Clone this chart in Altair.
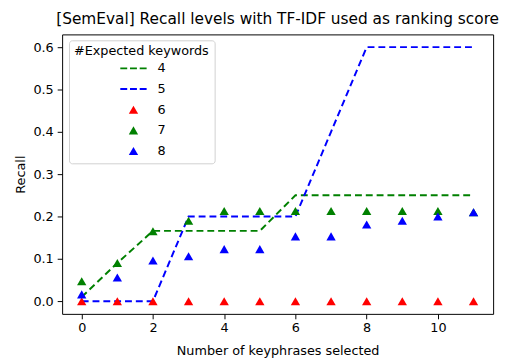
import altair as alt
import pandas as pd

# ---- data ----
x_vals = [0, 1, 2, 3, 4, 5, 6, 7, 8, 9, 10, 11]
recall_4 = [0.01, 0.09, 0.166, 0.166, 0.166, 0.166, 0.25, 0.25, 0.25, 0.25, 0.25, 0.25]
recall_5 = [0.0, 0.0, 0.0, 0.2, 0.2, 0.2, 0.2, 0.4, 0.6, 0.6, 0.6, 0.6]
recall_6 = [0.0, 0.0, 0.0, 0.0, 0.0, 0.0, 0.0, 0.0, 0.0, 0.0, 0.0, 0.0]
recall_7 = [0.047, 0.09, 0.165, 0.19, 0.213, 0.213, 0.213, 0.213, 0.213, 0.213, 0.213, 0.21]
recall_8 = [0.016, 0.056, 0.096, 0.106, 0.123, 0.123, 0.153, 0.153, 0.181, 0.19, 0.2, 0.21]

series_names = ["4", "5", "6", "7", "8"]
series_colors = ["green", "blue", "red", "green", "blue"]
x_ticks = [0, 2, 4, 6, 8, 10]
y_ticks = [0.0, 0.1, 0.2, 0.3, 0.4, 0.5, 0.6]

line_df = pd.concat([
    pd.DataFrame({"x": x_vals, "recall": recall_4, "series": "4"}),
    pd.DataFrame({"x": x_vals, "recall": recall_5, "series": "5"}),
])
point_df = pd.concat([
    pd.DataFrame({"x": x_vals, "recall": recall_6, "series": "6"}),
    pd.DataFrame({"x": x_vals, "recall": recall_7, "series": "7"}),
    pd.DataFrame({"x": x_vals, "recall": recall_8, "series": "8"}),
])

FONT = "DejaVu Sans"
dash_path = ("M-2.82,-0.21H-1.34V0.21H-2.82Z "
             "M-0.74,-0.21H0.74V0.21H-0.74Z "
             "M1.34,-0.21H2.82V0.21H1.34Z")
shape_range = [dash_path, dash_path, "triangle-up", "triangle-up", "triangle-up"]

x_enc = alt.X("x:Q",
              scale=alt.Scale(domain=[-0.55, 11.55], nice=False, zero=False),
              axis=alt.Axis(values=x_ticks, title="Number of keyphrases selected",
                            format="d"))
y_enc = alt.Y("recall:Q",
              scale=alt.Scale(domain=[-0.03, 0.63], nice=False, zero=False),
              axis=alt.Axis(values=y_ticks, title="Recall", format=".1f"))

color_scale = alt.Scale(domain=series_names, range=series_colors)
legend = alt.Legend(
    title="#Expected keywords",
    orient="none", legendX=7, legendY=6,
    padding=5, titlePadding=4, rowPadding=7,
    symbolSize=90, symbolOffset=54, labelOffset=18,
    strokeColor="#d0d0d0", fillColor="white", cornerRadius=3,
    titleFont=FONT, titleFontSize=13, titleFontWeight="normal", titleColor="black",
    labelFont=FONT, labelFontSize=13, labelColor="black",
    symbolStrokeWidth=0,
)

points = alt.Chart(point_df).mark_point(
    filled=True, size=90, opacity=1, strokeWidth=0
).encode(
    x=x_enc, y=y_enc,
    color=alt.Color("series:N", scale=color_scale, legend=legend),
    shape=alt.Shape("series:N", scale=alt.Scale(domain=series_names, range=shape_range),
                    legend=legend),
    order=alt.Order("series:N"),
)

lines = alt.Chart(line_df).mark_line(
    strokeDash=[7, 4], strokeWidth=2
).encode(
    x=x_enc, y=y_enc,
    color=alt.Color("series:N", scale=color_scale, legend=legend),
    detail="series:N",
)

chart = alt.layer(lines, points).properties(
    width=438, height=284,
    autosize=alt.AutoSizeParams(type="none"),
    padding={"left": 55, "top": 24, "right": 8, "bottom": 42},
    title=alt.TitleParams(
        "[SemEval] Recall levels with TF-IDF used as ranking score",
        font=FONT, fontSize=15.6, fontWeight="normal", color="black",
        anchor="middle", offset=7,
    ),
).configure_view(
    stroke="black", strokeWidth=1
).configure_axis(
    grid=False, domain=False,
    tickColor="black", tickSize=5, tickWidth=1,
    labelFont=FONT, labelFontSize=13, labelColor="black",
    titleFont=FONT, titleFontSize=13, titleFontWeight="normal", titleColor="black",
).configure_axisX(
    labelPadding=3, titlePadding=10,
).configure_axisY(
    labelPadding=4, titlePadding=6,
)

chart.save("out.html", embed_options={"renderer": "svg", "actions": False})
